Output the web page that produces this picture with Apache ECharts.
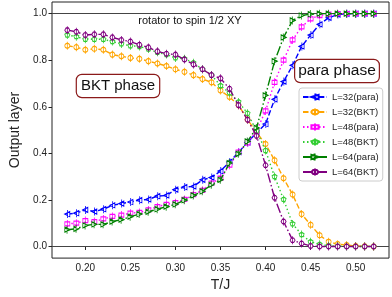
<!DOCTYPE html>
<html><head><meta charset="utf-8">
<script src="https://cdn.jsdelivr.net/npm/echarts@6/dist/echarts.min.js"></script>
<style>html,body{margin:0;padding:0;background:#fff}#c{width:392px;height:297px}</style>
</head><body><div id="c"></div>
<script>
const T = [0.18,0.19,0.20,0.21,0.22,0.23,0.24,0.25,0.26,0.27,0.28,0.29,0.30,0.31,0.32,0.33,0.34,0.35,0.36,0.37,0.38,0.39,0.40,0.41,0.42,0.43,0.44,0.45,0.46,0.47,0.48,0.49,0.50,0.51,0.52];
const L32para = [0.139,0.143,0.157,0.150,0.160,0.177,0.184,0.191,0.199,0.202,0.216,0.219,0.244,0.255,0.258,0.286,0.296,0.324,0.363,0.405,0.447,0.488,0.526,0.632,0.708,0.778,0.859,0.908,0.954,0.982,0.996,0.999,1.0,1.0,1.0];
const L32BKT = [0.862,0.856,0.845,0.849,0.845,0.824,0.817,0.810,0.806,0.796,0.786,0.775,0.761,0.750,0.736,0.719,0.705,0.670,0.642,0.607,0.545,0.490,0.440,0.370,0.293,0.223,0.139,0.093,0.048,0.020,0.010,0.006,0.002,0.001,0.000];
const L48para = [0.097,0.100,0.111,0.107,0.118,0.129,0.135,0.143,0.146,0.157,0.171,0.181,0.188,0.202,0.223,0.241,0.272,0.293,0.349,0.405,0.445,0.497,0.582,0.705,0.800,0.887,0.943,0.978,0.992,0.998,1.0,1.0,1.0,1.0,1.0];
const L48BKT = [0.908,0.901,0.890,0.890,0.890,0.880,0.870,0.862,0.859,0.848,0.834,0.824,0.810,0.806,0.789,0.761,0.736,0.691,0.660,0.621,0.572,0.496,0.412,0.300,0.202,0.097,0.051,0.020,0.009,0.003,0.001,0,0,0,0];
const L64para = [0.072,0.076,0.090,0.095,0.095,0.107,0.115,0.128,0.139,0.149,0.160,0.171,0.181,0.199,0.219,0.237,0.265,0.286,0.358,0.398,0.451,0.509,0.649,0.796,0.898,0.971,0.992,0.998,1.0,1.0,1.0,1.0,1.0,1.0,1.0];
const L64BKT = [0.929,0.922,0.908,0.911,0.911,0.898,0.887,0.880,0.866,0.855,0.838,0.828,0.824,0.803,0.782,0.761,0.736,0.722,0.677,0.607,0.544,0.475,0.349,0.209,0.107,0.027,0.013,0.002,0,0,0,0,0,0,0];
const seriesNames = ['L=32(para)','L=32(BKT)','L=48(para)','L=48(BKT)','L=64(para)','L=64(BKT)'];
const xTicks = [0.20,0.25,0.30,0.35,0.40,0.45,0.50];
const yTicks = [0.0,0.2,0.4,0.6,0.8,1.0];

const FONT = 'Liberation Sans';
function polyPath(n, rot){ // polygon marker with vertical error bar, box 0..10 x 0..16
  let p = '';
  for (let i=0;i<n;i++){
    const a = rot + i*2*Math.PI/n;
    const x = 5 + 5*Math.cos(a), y = 8 + 5*Math.sin(a);
    p += (i===0?'M':'L') + x.toFixed(2) + ',' + y.toFixed(2) + ' ';
  }
  return 'path://' + p + 'Z M5,0 L5,16';
}
const symLeft = 'path://M0,8 L9,3 L9,13 Z M5,0 L5,16';
const symRight = 'path://M10,8 L1,3 L1,13 Z M5,0 L5,16';
const symSquare = 'path://M1,4 L9,4 L9,12 L1,12 Z M5,0 L5,16';
const symCircle = polyPath(14, 0);
const symPent = polyPath(5, -Math.PI/2);
const symHex = polyPath(6, 0);

const styles = [
  {data:L32para, color:'#0000ff', dash:[5.5,2.4], sym:symLeft},
  {data:L32BKT, color:'#ffa500', dash:[5.5,2.4], sym:symCircle},
  {data:L48para, color:'#ff00ff', dash:[1.5,2.5], sym:symSquare},
  {data:L48BKT, color:'#32cd32', dash:[1.5,2.5], sym:symPent},
  {data:L64para, color:'#008000', dash:[9.6,2.4,1.5,2.4], sym:symRight},
  {data:L64BKT, color:'#800080', dash:[9.6,2.4,1.5,2.4], sym:symHex},
];

const series = styles.map((s,i)=>({
  name: seriesNames[i],
  type: 'line',
  data: T.map((t,j)=>[t, s.data[j]]),
  symbol: s.sym,
  symbolSize: [5,8],
  showSymbol: true,
  itemStyle: {color: '#ffffff', borderColor: s.color, borderWidth: 1},
  lineStyle: {color: s.color, width: 1.4, type: s.dash},
  z: 3 + i,
  animation: false,
  markLine: i===0 ? {
    silent: true, symbol: 'none', label: {show:false},
    lineStyle: {color:'#444', width:1, type:'solid'},
    data: [{yAxis:0},{yAxis:1}], animation:false, z: 1
  } : undefined
}));

const chart = echarts.init(document.getElementById('c'), null, {renderer:'canvas'});
chart.setOption({
  animation: false,
  textStyle: {fontFamily: FONT},
  grid: {left:40, top:2, width:349, height:261, show:true, borderColor:'#222', borderWidth:1, backgroundColor:'transparent'},
  xAxis: {
    type:'value', min:0.163, max:0.537,
    name:'T/J', nameLocation:'middle', nameGap:16,
    nameTextStyle:{fontSize:14, color:'#222', fontFamily:FONT},
    axisLine:{show:false},
    axisTick:{show:true, inside:false, length:3.5, lineStyle:{color:'#222'}, customValues:xTicks},
    axisLabel:{fontSize:10, color:'#222', margin:5, fontFamily:FONT, customValues:xTicks, formatter:v=>v.toFixed(2)},
    splitLine:{show:false}
  },
  yAxis: {
    type:'value', min:-0.05, max:1.05,
    name:'Output layer', nameLocation:'middle', nameGap:30, nameRotate:90,
    nameTextStyle:{fontSize:14, color:'#222', fontFamily:FONT},
    axisLine:{show:false},
    axisTick:{show:true, inside:false, length:3.5, lineStyle:{color:'#222'}, customValues:yTicks},
    axisLabel:{fontSize:10, color:'#222', margin:5, fontFamily:FONT, customValues:yTicks, formatter:v=>v.toFixed(1)},
    splitLine:{show:false}
  },
  legend: {
    orient:'vertical', left:299, top:88,
    itemWidth:24, itemHeight:9, itemGap:5,
    backgroundColor:'#fff', borderColor:'#ccc', borderWidth:1, borderRadius:3,
    padding:[4,4,4,3],
    textStyle:{fontSize:9.5, color:'#222', fontFamily:FONT},
    data: seriesNames
  },
  graphic: [
    {type:'text', z:100, x:190, y:21,
     style:{text:'rotator to spin 1/2 XY', fontSize:11, fill:'#111', fontFamily:FONT, align:'center', verticalAlign:'middle'}},
    {type:'text', z:100, x:118, y:86,
     style:{text:'BKT phase', fontSize:15, fill:'#111', fontFamily:FONT, align:'center', verticalAlign:'middle',
            backgroundColor:'#fff', borderColor:'#8b1a1a', borderWidth:1.2, borderRadius:5, padding:[4,4,3,4]}},
    {type:'text', z:100, x:337, y:71,
     style:{text:'para phase', fontSize:15.5, fill:'#111', fontFamily:FONT, align:'center', verticalAlign:'middle',
            backgroundColor:'#fff', borderColor:'#8b1a1a', borderWidth:1.2, borderRadius:5, padding:[3,3,3,3]}}
  ],
  series: series
});
</script></body></html>
